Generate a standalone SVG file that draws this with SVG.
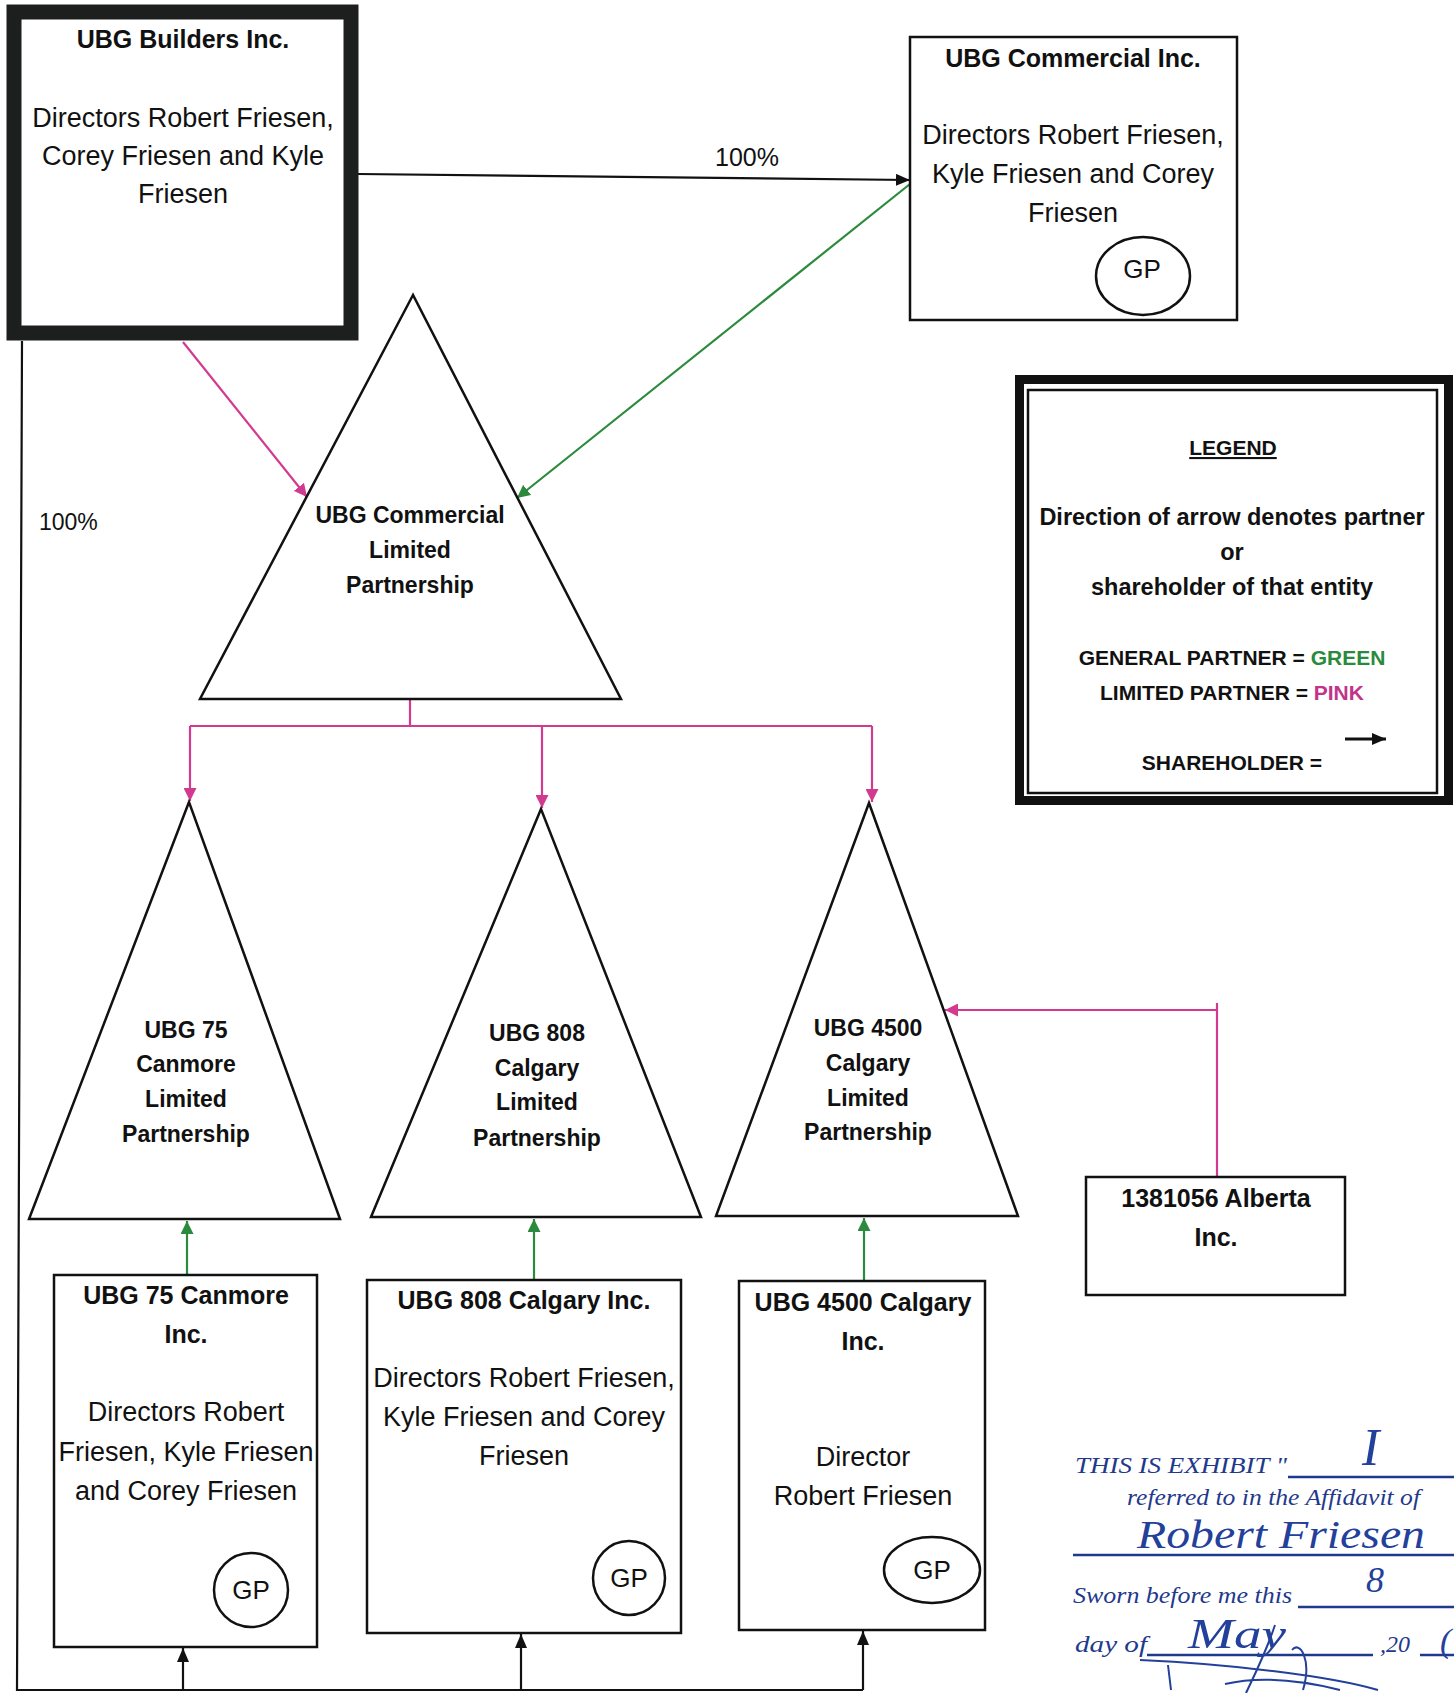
<svg xmlns="http://www.w3.org/2000/svg" width="1454" height="1693" viewBox="0 0 1454 1693">
<style>
  text { font-family: "Liberation Sans", Arial, sans-serif; fill: #111; }
  .t { font-weight: bold; font-size: 25px; text-anchor: middle; }
  .b { font-size: 27px; text-anchor: middle; }
  .tri { font-weight: bold; font-size: 23px; text-anchor: middle; }
  .lg { font-weight: bold; text-anchor: middle; }
  .gp { font-size: 26px; text-anchor: middle; }
  .box { fill: #fff; stroke: #111; stroke-width: 2.5; }
  .shape { fill: #fff; stroke: #111; stroke-width: 2.5; stroke-linejoin: miter; }
  .blk { fill: none; stroke: #111; stroke-width: 2.2; }
  .pink { fill: none; stroke: #d23a8f; stroke-width: 2.2; }
  .green { fill: none; stroke: #2b8a3e; stroke-width: 2.2; }
  .stamp { font-family: "Liberation Serif", "Times New Roman", serif; font-style: italic; fill: #1f3a8c; }
  .hand { font-family: "Liberation Serif", "Times New Roman", serif; font-style: italic; fill: #23409a; }
  .sl { fill: none; stroke: #1f3a8c; stroke-width: 2.5; }
</style>
<defs>
  <marker id="aBlk" viewBox="0 0 14 12" refX="14" refY="6" markerWidth="14" markerHeight="12" markerUnits="userSpaceOnUse" orient="auto"><path d="M0,0 L14,6 L0,12 z" fill="#111"/></marker>
  <marker id="aPink" viewBox="0 0 13 13" refX="13" refY="6.5" markerWidth="13" markerHeight="13" markerUnits="userSpaceOnUse" orient="auto"><path d="M0,0 L13,6.5 L0,13 z" fill="#d23a8f"/></marker>
  <marker id="aGreen" viewBox="0 0 13 13" refX="13" refY="6.5" markerWidth="13" markerHeight="13" markerUnits="userSpaceOnUse" orient="auto"><path d="M0,0 L13,6.5 L0,13 z" fill="#2b8a3e"/></marker>
</defs>
<rect x="0" y="0" width="1454" height="1693" fill="#fff"/>

<g id="connectors">
  <path class="blk" d="M358,174 L910,180" marker-end="url(#aBlk)"/>
  <path class="green" d="M910,184 L517,498" marker-end="url(#aGreen)"/>
  <path class="pink" d="M183,342 L307,497" marker-end="url(#aPink)"/>
  <path class="blk" d="M22,341 L17,1690 L863,1690"/>
  <path class="blk" d="M183,1690 L183,1648" marker-end="url(#aBlk)"/>
  <path class="blk" d="M521,1690 L521,1634" marker-end="url(#aBlk)"/>
  <path class="blk" d="M863,1690 L863,1631" marker-end="url(#aBlk)"/>
  <path class="pink" d="M410,699 L410,726 M190,726 L872,726"/>
  <path class="pink" d="M190,726 L190,801" marker-end="url(#aPink)"/>
  <path class="pink" d="M542,726 L542,808" marker-end="url(#aPink)"/>
  <path class="pink" d="M872,726 L872,802" marker-end="url(#aPink)"/>
  <path class="pink" d="M1217,1177 L1217,1003 M1217,1010 L945,1010" marker-end="url(#aPink)"/>
  <path class="green" d="M187,1275 L187,1221" marker-end="url(#aGreen)"/>
  <path class="green" d="M534,1280 L534,1219" marker-end="url(#aGreen)"/>
  <path class="green" d="M864,1281 L864,1218" marker-end="url(#aGreen)"/>
  <text x="747" y="166" font-size="25" text-anchor="middle">100%</text>
  <text x="39" y="530" font-size="23">100%</text>
</g>

<g id="ubg-builders">
  <rect x="14" y="12" width="337" height="321" fill="#fff" stroke="#1c1f1e" stroke-width="15"/>
  <text class="t" x="183" y="48">UBG Builders Inc.</text>
  <text class="b" x="183" y="127">Directors Robert Friesen,</text>
  <text class="b" x="183" y="165">Corey Friesen and Kyle</text>
  <text class="b" x="183" y="203">Friesen</text>
</g>

<g id="ubg-commercial-inc">
  <rect class="box" x="910" y="37" width="327" height="283"/>
  <text class="t" x="1073" y="67">UBG Commercial Inc.</text>
  <text class="b" x="1073" y="144">Directors Robert Friesen,</text>
  <text class="b" x="1073" y="183">Kyle Friesen and Corey</text>
  <text class="b" x="1073" y="222">Friesen</text>
  <ellipse cx="1143" cy="276" rx="47" ry="39" fill="none" stroke="#111" stroke-width="2.5"/>
  <text class="gp" x="1142" y="278">GP</text>
</g>

<g id="ubg-commercial-lp">
  <polygon class="shape" points="413,295 200,699 621,699"/>
  <text class="tri" x="410" y="523">UBG Commercial</text>
  <text class="tri" x="410" y="558">Limited</text>
  <text class="tri" x="410" y="593">Partnership</text>
</g>

<g id="legend">
  <rect x="1019.5" y="379.5" width="429" height="421" fill="#fff" stroke="#111" stroke-width="9"/>
  <rect x="1028" y="390" width="409" height="403" fill="none" stroke="#111" stroke-width="2.5"/>
  <text class="lg" x="1233" y="455" font-size="21" text-decoration="underline">LEGEND</text>
  <text class="lg" x="1232" y="525" font-size="23.5">Direction of arrow denotes partner</text>
  <text class="lg" x="1232" y="560" font-size="23.5">or</text>
  <text class="lg" x="1232" y="595" font-size="23.5">shareholder of that entity</text>
  <text class="lg" x="1232" y="665" font-size="21">GENERAL PARTNER = <tspan fill="#2a8a3c">GREEN</tspan></text>
  <text class="lg" x="1232" y="700" font-size="21">LIMITED PARTNER = <tspan fill="#c2338a">PINK</tspan></text>
  <text class="lg" x="1232" y="770" font-size="21">SHAREHOLDER =</text>
  <path d="M1345,739 L1386,739" stroke="#111" stroke-width="3" marker-end="url(#aBlk)"/>
</g>

<g id="ubg-75-lp">
  <polygon class="shape" points="189,802 29,1219 340,1219"/>
  <text class="tri" x="186" y="1038">UBG 75</text>
  <text class="tri" x="186" y="1072">Canmore</text>
  <text class="tri" x="186" y="1107">Limited</text>
  <text class="tri" x="186" y="1142">Partnership</text>
</g>

<g id="ubg-808-lp">
  <polygon class="shape" points="541,809 371,1217 701,1217"/>
  <text class="tri" x="537" y="1041">UBG 808</text>
  <text class="tri" x="537" y="1076">Calgary</text>
  <text class="tri" x="537" y="1110">Limited</text>
  <text class="tri" x="537" y="1146">Partnership</text>
</g>

<g id="ubg-4500-lp">
  <polygon class="shape" points="869,803 716,1216 1018,1216"/>
  <text class="tri" x="868" y="1036">UBG 4500</text>
  <text class="tri" x="868" y="1071">Calgary</text>
  <text class="tri" x="868" y="1106">Limited</text>
  <text class="tri" x="868" y="1140">Partnership</text>
</g>

<g id="alberta-1381056">
  <rect class="box" x="1086" y="1177" width="259" height="118"/>
  <text class="t" x="1216" y="1207" font-size="26">1381056 Alberta</text>
  <text class="t" x="1216" y="1246" font-size="26">Inc.</text>
</g>

<g id="ubg-75-inc">
  <rect class="box" x="54" y="1275" width="263" height="372"/>
  <text class="t" x="186" y="1304">UBG 75 Canmore</text>
  <text class="t" x="186" y="1343">Inc.</text>
  <text class="b" x="186" y="1421">Directors Robert</text>
  <text class="b" x="186" y="1461">Friesen, Kyle Friesen</text>
  <text class="b" x="186" y="1500">and Corey Friesen</text>
  <ellipse cx="251" cy="1590" rx="37" ry="37" fill="none" stroke="#111" stroke-width="2.5"/>
  <text class="gp" x="251" y="1599">GP</text>
</g>

<g id="ubg-808-inc">
  <rect class="box" x="367" y="1280" width="314" height="353"/>
  <text class="t" x="524" y="1309">UBG 808 Calgary Inc.</text>
  <text class="b" x="524" y="1387">Directors Robert Friesen,</text>
  <text class="b" x="524" y="1426">Kyle Friesen and  Corey</text>
  <text class="b" x="524" y="1465">Friesen</text>
  <ellipse cx="629" cy="1578" rx="36" ry="37" fill="none" stroke="#111" stroke-width="2.5"/>
  <text class="gp" x="629" y="1587">GP</text>
</g>

<g id="ubg-4500-inc">
  <rect class="box" x="739" y="1281" width="246" height="349"/>
  <text class="t" x="863" y="1311">UBG 4500 Calgary</text>
  <text class="t" x="863" y="1350">Inc.</text>
  <text class="b" x="863" y="1466">Director</text>
  <text class="b" x="863" y="1505">Robert Friesen</text>
  <ellipse cx="932" cy="1570" rx="48" ry="33" fill="none" stroke="#111" stroke-width="2.5"/>
  <text class="gp" x="932" y="1579">GP</text>
</g>

<g id="exhibit-stamp">
  <text class="stamp" x="1075" y="1473" font-size="24" textLength="212" lengthAdjust="spacingAndGlyphs">THIS IS EXHIBIT "</text>
  <path class="sl" d="M1288,1477 L1454,1477"/>
  <text class="hand" x="1362" y="1465" font-size="52">I</text>
  <text class="stamp" x="1127" y="1505" font-size="24" textLength="293" lengthAdjust="spacingAndGlyphs">referred to in the Affidavit of</text>
  <text class="hand" x="1137" y="1548" font-size="40" textLength="288" lengthAdjust="spacingAndGlyphs">Robert Friesen</text>
  <path class="sl" d="M1073,1555 L1454,1555"/>
  <text class="hand" x="1366" y="1592" font-size="36">8</text>
  <text class="stamp" x="1073" y="1603" font-size="24" textLength="219" lengthAdjust="spacingAndGlyphs">Sworn before me this</text>
  <path class="sl" d="M1298,1607 L1454,1607"/>
  <text class="stamp" x="1075" y="1652" font-size="24" textLength="72" lengthAdjust="spacingAndGlyphs">day of</text>
  <path class="sl" d="M1147,1655 L1373,1655"/>
  <text class="hand" x="1188" y="1648" font-size="42" textLength="98" lengthAdjust="spacingAndGlyphs">May</text>
  <text class="stamp" x="1380" y="1652" font-size="24">,20</text>
  <path class="sl" d="M1420,1655 L1454,1655"/>
  <text class="hand" x="1440" y="1652" font-size="34">(</text>
  <path d="M1168,1665 L1171,1690 M1140,1660 C1230,1664 1330,1676 1378,1690 M1275,1625 C1265,1655 1252,1680 1246,1693 M1225,1684 C1260,1676 1300,1680 1340,1690 M1292,1650 C1300,1640 1312,1660 1303,1690" fill="none" stroke="#23409a" stroke-width="2"/>
</g>
</svg>
